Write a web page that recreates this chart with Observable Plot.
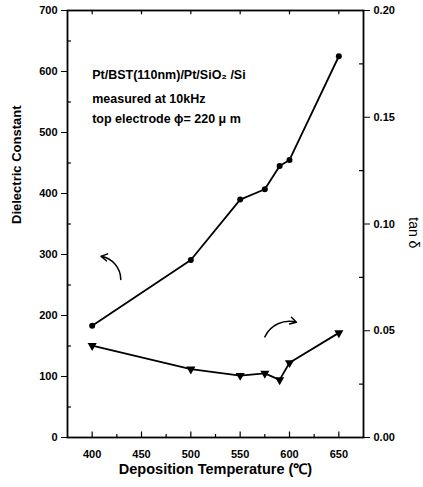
<!DOCTYPE html>
<html><head><meta charset="utf-8">
<script src="https://cdn.jsdelivr.net/npm/d3@7"></script>
<script src="https://cdn.jsdelivr.net/npm/@observablehq/plot@0.6"></script>
<style>body{margin:0;background:#fff} svg{font-family:"Liberation Sans",Arial,sans-serif}</style>
</head><body><div id="chart"></div>
<script>
const temperatures = [400, 500, 550, 575, 590, 600, 650];
const dielectricConstant = [183, 291, 390, 407, 445, 455, 625];
const tanDelta = [0.043, 0.032, 0.029, 0.030, 0.027, 0.035, 0.049];
const xTicks = [400, 450, 500, 550, 600, 650];
const xMinorTicks = [425, 475, 525, 575, 625];
const leftTicks = [0, 100, 200, 300, 400, 500, 600, 700];
const leftMinorTicks = [50, 150, 250, 350, 450, 550, 650];
const rightTicks = [0, 0.05, 0.10, 0.15, 0.20];
const rightMinorTicks = [0.025, 0.075, 0.125, 0.175];
const annotationLines = ["Pt/BST(110nm)/Pt/SiO\u2082 /Si", "measured at 10kHz", "top electrode \u03D5= 220 \u03BC m"];
const annotationX = [400, 400, 400];
const annotationY = [594, 555, 522];
// curved arrows (dielectric-scale data units)
const arrowEpsFrom = {x1: 429, y1: 259, x2: 409, y2: 297};
const arrowTanFrom = {x1: 575, y1: 165, x2: 607, y2: 189};

const scale = 700 / 0.2; // tan δ -> left-axis units
const xMin = 375, xMax = 675;
const rows = temperatures.map((t, i) => ({t, eps: dielectricConstant[i], tan: tanDelta[i]}));
const notes = annotationLines.map((s, i) => ({s, x: annotationX[i], y: annotationY[i]}));

const chart = Plot.plot({
  width: 423, height: 487,
  marginLeft: 67, marginRight: 60, marginTop: 10, marginBottom: 50,
  style: {fontFamily: "Liberation Sans, Arial, sans-serif", fontSize: "11px", fontWeight: "bold", color: "black"},
  x: {domain: [xMin, xMax]},
  y: {domain: [0, 700]},
  marks: [
    Plot.axisX({ticks: xTicks, tickSize: 0, tickPadding: 13, label: null}),
    Plot.text(["Deposition Temperature (\u2103)"], {frameAnchor: "bottom", dy: 36, fontSize: 14.5, fontWeight: "bold"}),
    Plot.ruleX(xTicks, {x: d => d, y1: 0, y2: 9, stroke: "black", strokeWidth: 1.2}),
    Plot.ruleX(xMinorTicks, {x: d => d, y1: 0, y2: 5, stroke: "black", strokeWidth: 1.2}),
    Plot.ruleX(xTicks, {x: d => d, y1: 700, y2: 693, stroke: "black", strokeWidth: 1.2}),
    Plot.axisY({ticks: leftTicks, tickSize: 6, tickPadding: 4, label: null}),
    Plot.text(["Dielectric Constant"], {frameAnchor: "left", dx: -51, rotate: -90, fontSize: 13, fontWeight: "bold"}),
    Plot.ruleY(leftMinorTicks, {y: d => d, x1: xMin, x2: xMin + 4, stroke: "black", strokeWidth: 1.2}),
    Plot.axisY({anchor: "right", ticks: rightTicks.map(d => d * scale), tickSize: 6, tickPadding: 4, tickFormat: d => (d / scale).toFixed(2), label: null}),
    Plot.ruleY(rightMinorTicks.map(d => d * scale), {y: d => d, x1: xMax - 4, x2: xMax, stroke: "black", strokeWidth: 1.2}),
    Plot.frame({stroke: "black", strokeWidth: 1.8}),
    Plot.text(["tan \u03B4"], {frameAnchor: "right", y: 310, dx: 50, rotate: 90, fontSize: 14, fontWeight: "normal"}),
    Plot.line(rows, {x: "t", y: "eps", stroke: "black", strokeWidth: 1.8}),
    Plot.dot(rows, {x: "t", y: "eps", r: 3, fill: "black", stroke: "none"}),
    Plot.line(rows, {x: "t", y: d => d.tan * scale, stroke: "black", strokeWidth: 1.8}),
    Plot.dot(rows, {x: "t", y: d => d.tan * scale, symbol: "triangle", r: 3.4, rotate: 180, fill: "black", stroke: "none"}),
    Plot.arrow([arrowEpsFrom], {x1: "x1", y1: "y1", x2: "x2", y2: "y2", bend: -40, stroke: "black", strokeWidth: 1.5, headLength: 7}),
    Plot.arrow([arrowTanFrom], {x1: "x1", y1: "y1", x2: "x2", y2: "y2", bend: 40, stroke: "black", strokeWidth: 1.5, headLength: 7}),
    Plot.text(notes, {x: "x", y: "y", text: "s", textAnchor: "start", fontSize: 12.5})
  ]
});
document.getElementById("chart").append(chart);
</script></body></html>
